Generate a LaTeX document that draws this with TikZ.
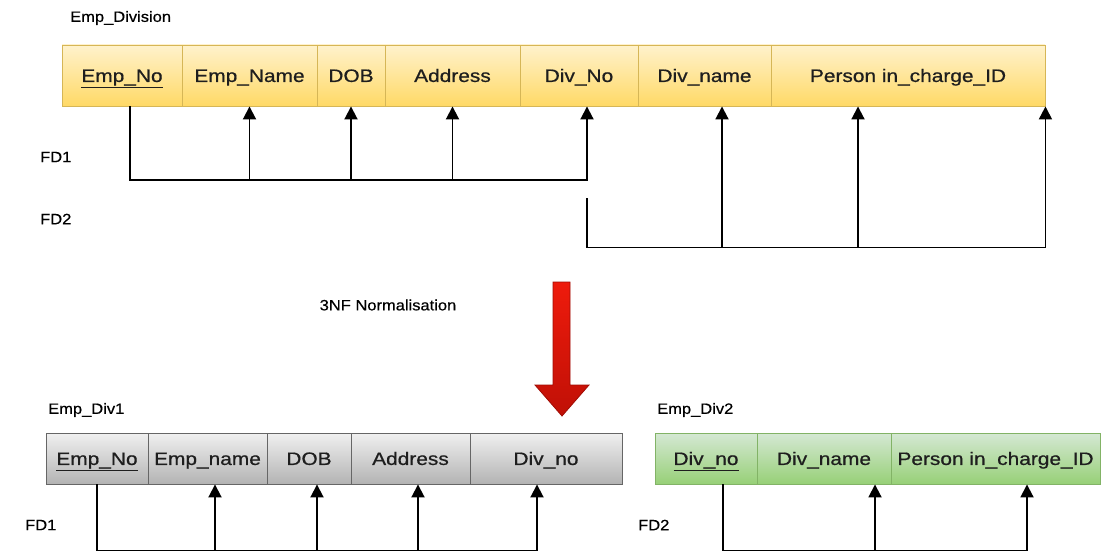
\documentclass[tikz,border=0pt]{standalone}
\usepackage{fontspec}
\setmainfont{Liberation Sans}
\newfontfamily\cellfont{Liberation Sans}[FakeStretch=1.16,FakeBold=0.7]
\newfontfamily\lblfont{Liberation Sans}[FakeStretch=1.1,FakeBold=0.5]
\usetikzlibrary{arrows.meta}
\definecolor{ytop}{HTML}{FFF2CC}
\definecolor{ybot}{HTML}{FFD966}
\definecolor{ystroke}{HTML}{D6B656}
\definecolor{gtop}{HTML}{F0F0F0}
\definecolor{gbot}{HTML}{B3B3B3}
\definecolor{gstroke}{HTML}{666666}
\definecolor{ntop}{HTML}{D5E8D4}
\definecolor{nbot}{HTML}{97D077}
\definecolor{nstroke}{HTML}{82B366}
\definecolor{rtop}{HTML}{EE1B0C}
\definecolor{rbot}{HTML}{C01006}
\definecolor{rstroke}{HTML}{A00C04}
\definecolor{txt}{HTML}{1E1E1E}
\tikzset{
  cell/.style={draw, line width=0.9pt, inner sep=0pt, text=txt,
    text height=12.9pt, text depth=0pt,
    font=\cellfont\fontsize{18}{20}\selectfont},
  ycell/.style={cell, draw=ystroke, top color=ytop, bottom color=ybot, minimum height=61pt},
  gcell/.style={cell, draw=gstroke, top color=gtop, bottom color=gbot, minimum height=51pt},
  ncell/.style={cell, draw=nstroke, top color=ntop, bottom color=nbot, minimum height=51pt},
  lbl/.style={inner sep=0pt, text=black, font=\lblfont\fontsize{15}{18}\selectfont},
  fd/.style={line width=1.9pt, draw=black},
  arr/.style={fd, -{Triangle[length=13pt,width=13pt]}},
}
\begin{document}
\begin{tikzpicture}[x=1pt,y=-1pt]
\fill[white] (0,0) rectangle (1107,556);
\useasboundingbox (0,0) rectangle (1107,556);

% top table
\node[lbl, anchor=west] (t0) at (70,18) {Emp\_Division};
\node[ycell, minimum width=120pt] (a1) at (122,75.5) {\underline{Emp\_No}};
\node[ycell, minimum width=135pt] (a2) at (249.5,75.5) {Emp\_Name};
\node[ycell, minimum width=68pt] (a3) at (351,75.5) {DOB};
\node[ycell, minimum width=135pt] (a4) at (452.5,75.5) {Address};
\node[ycell, minimum width=118pt] (a5) at (579,75.5) {Div\_No};
\node[ycell, minimum width=133pt] (a6) at (704.5,75.5) {Div\_name};
\node[ycell, minimum width=274pt] (a7) at (908,75.5) {Person in\_charge\_ID};

\node[lbl, anchor=west] (fd1t) at (40,157) {FD1};
\node[lbl, anchor=west] (fd2t) at (40,219) {FD2};

% FD1 top
\draw[arr] ([xshift=8pt]a1.south) -- ++(0,74) -| ([xshift=8pt]a5.south);
\draw[arr] (a2.south) ++(0,74) -- (a2.south);
\draw[arr] (a3.south) ++(0,74) -- (a3.south);
\draw[arr] (a4.south) ++(0,74) -- (a4.south);
% FD2 top
\draw[arr] ([xshift=8pt]a5.south) ++(0,92) -- ++(0,49) -| (a7.south east);
\draw[arr] ([xshift=17.5pt]a6.south) ++(0,141) -- ([xshift=17.5pt]a6.south);
\draw[arr] ([xshift=-50pt]a7.south) ++(0,141) -- ([xshift=-50pt]a7.south);

% normalisation
\node[lbl] (nf) at (388,305) {3NF Normalisation};
\path[draw=rstroke, line width=0.8pt, top color=rtop, bottom color=rbot]
  (553,282) -- (570,282) -- (570,385) -- (589,385) -- (562,416)
  -- (535,385) -- (553,385) -- cycle;

% bottom left table
\node[lbl, anchor=west] (t1) at (48,410) {Emp\_Div1};
\node[gcell, minimum width=102pt] (b1) at (97,458.5) {\underline{Emp\_No}};
\node[gcell, minimum width=119pt] (b2) at (207.5,458.5) {Emp\_name};
\node[gcell, minimum width=84pt] (b3) at (309,458.5) {DOB};
\node[gcell, minimum width=119pt] (b4) at (410.5,458.5) {Address};
\node[gcell, minimum width=152pt] (b5) at (546,458.5) {Div\_no};
\node[lbl, anchor=west] (fd1b) at (25,525) {FD1};

\draw[arr] (b1.south) -- ++(0,66) -| ([xshift=-9pt]b5.south);
\draw[arr] ([xshift=7.5pt]b2.south) ++(0,66) -- ([xshift=7.5pt]b2.south);
\draw[arr] ([xshift=8pt]b3.south) ++(0,66) -- ([xshift=8pt]b3.south);
\draw[arr] ([xshift=7.5pt]b4.south) ++(0,66) -- ([xshift=7.5pt]b4.south);

% bottom right table
\node[lbl, anchor=west] (t2) at (657,410) {Emp\_Div2};
\node[ncell, minimum width=102pt] (g1) at (706,458.5) {\underline{Div\_no}};
\node[ncell, minimum width=134pt] (g2) at (824,458.5) {Div\_name};
\node[ncell, minimum width=209pt] (g3) at (995.5,458.5) {Person in\_charge\_ID};
\node[lbl, anchor=west] (fd2b) at (638,525) {FD2};

\draw[arr] ([xshift=17pt]g1.south) -- ++(0,66) -| ([xshift=31.5pt]g3.south);
\draw[arr] ([xshift=51pt]g2.south) ++(0,66) -- ([xshift=51pt]g2.south);
\end{tikzpicture}
\end{document}
